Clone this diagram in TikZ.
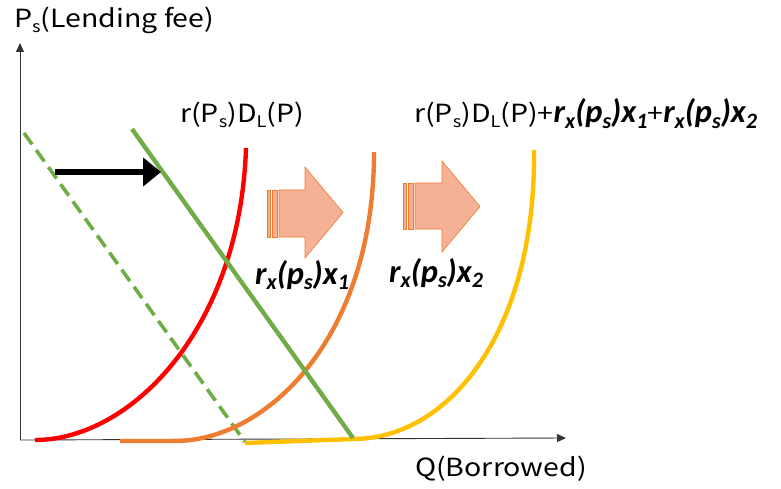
\documentclass[tikz,border=0pt]{standalone}
\usepackage{fontspec}
\setmainfont{Noto Sans CJK JP}
\newfontfamily\bif{Carlito}
\usetikzlibrary{arrows.meta}
\definecolor{cred}{HTML}{FF0000}
\definecolor{corange}{HTML}{ED7D31}
\definecolor{cyellow}{HTML}{FFC000}
\definecolor{cgreen}{HTML}{70AD47}
\definecolor{blockfill}{HTML}{F5B195}
\newcommand{\sbs}[1]{\raisebox{-0.3ex}{\fontsize{16}{16}\selectfont #1}}
\newcommand{\bsb}[1]{\raisebox{-0.35ex}{\fontsize{22}{22}\selectfont #1}}
\newcommand{\rx}[1]{{\bif\bfseries\itshape r\bsb{x}(p\bsb{s})x\bsb{#1}}}
\newcommand{\wide}[1]{\scalebox{1.14}[1]{#1}}
\begin{document}
\begin{tikzpicture}[x=1pt,y=-1pt,
  axis/.style={line width=0.9pt,draw=black!80,-{Triangle[length=9pt,width=8pt]}},
  curve/.style={line width=4.4pt},
  lbl/.style={inner sep=0pt,font=\fontsize{25}{28}\selectfont},
  bilbl/.style={inner sep=0pt,font=\fontsize{32.5}{36}\selectfont},
  blockar/.style={draw=corange,line width=0.6pt,fill=blockfill}
]
\useasboundingbox (0,0) rectangle (781,489);
% axes
\coordinate (O) at (20,440);
\coordinate (ytop) at (20,43);
\coordinate (xend) at (566,438);
\draw[axis] (O) -- (ytop);
\draw[axis] (O) -- (xend);
% labels
\node[lbl,anchor=base west] (ylab) at (14,28) {\wide{P\sbs{s}(Lending fee)}};
\node[lbl,anchor=base west] (xlab) at (415,476) {\wide{Q(Borrowed)}};
\node[lbl,anchor=base west] (dlab) at (180,123) {\wide{r(P\sbs{s})D\sbs{L}(P)}};
\node[lbl,anchor=base west] (tlab) at (414,123) {\wide{r(P\sbs{s})D\sbs{L}(P)+}{\fontsize{32.5}{36}\selectfont\rx{1}}\wide{+}{\fontsize{32.5}{36}\selectfont\rx{2}}};
\node[bilbl,anchor=base west] (l1) at (255,284) {\rx{1}};
\node[bilbl,anchor=base west] (l2) at (389,282) {\rx{2}};
% green lines
\coordinate (gd1) at (24,133);
\coordinate (gd2) at (245,442);
\coordinate (gs1) at (132,129);
\coordinate (gs2) at (353,438);
\draw[cgreen,line width=3.6pt,dash pattern=on 14pt off 7pt] (gd1) -- (gd2);
% curves
\draw[curve,cred] (35,440) .. controls (130,440) and (240,330) .. (246,148);
\draw[curve,corange] (120,441) -- (175,441) .. controls (265,441) and (374,340) .. (374,152);
\draw[curve,cyellow] (245,443) -- (353,439) .. controls (450,439) and (536,330) .. (534,150);
\draw[cgreen,line width=4.4pt] (gs1) -- (gs2);
% black shift arrow
\coordinate (a1) at (55,172);
\coordinate (a2) at (161,172);
\draw[line width=6pt,-{Triangle[length=18pt,width=28pt]}] (a1) -- (a2);
% block arrows
\foreach \bx/\tx/\hx/\ht/\hb/\bt/\bb in {267/343/305/167/258/190/237, 403/480/442/161/252/183/229}{
  \pgfmathsetmacro{\cy}{(\ht+\hb)/2}
  \draw[blockar] (\bx,\bt) rectangle (\bx+3.5,\bb);
  \draw[blockar] (\bx+5,\bt) rectangle (\bx+10,\bb);
  \draw[blockar] (\bx+12,\bt) -- (\hx,\bt) -- (\hx,\ht) -- (\tx,\cy) -- (\hx,\hb) -- (\hx,\bb) -- (\bx+12,\bb) -- cycle;
}
\end{tikzpicture}
\end{document}
